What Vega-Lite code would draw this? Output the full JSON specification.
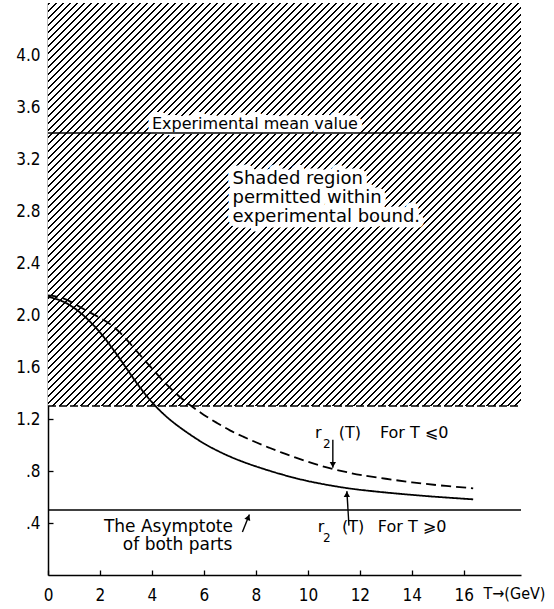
{
"$schema": "https://vega.github.io/schema/vega-lite/v6.json",
"width": 473, "height": 572,
"autosize": {"type": "none"},
"padding": {"left": 48, "top": 3, "right": 33, "bottom": 34},
"background": "white",
"config": {"view": {"stroke": null}, "font": "DejaVu Sans"},
"datasets": {
"bound": [{"T": 0, "T2": 18.2, "r": 1.3, "r2": 4.4}],
"refs": [{"label": "Experimental mean value", "r": 3.4}, {"label": "Asymptote", "r": 0.5}],
"curves": [
{"part": "T ⩽ 0", "T": 0, "r": 2.15}, {"part": "T ⩽ 0", "T": 0.5, "r": 2.14}, {"part": "T ⩽ 0", "T": 1, "r": 2.09}, {"part": "T ⩽ 0", "T": 1.5, "r": 2.03}, {"part": "T ⩽ 0", "T": 2, "r": 1.98}, {"part": "T ⩽ 0", "T": 2.5, "r": 1.92}, {"part": "T ⩽ 0", "T": 3, "r": 1.82}, {"part": "T ⩽ 0", "T": 3.5, "r": 1.70}, {"part": "T ⩽ 0", "T": 4, "r": 1.59}, {"part": "T ⩽ 0", "T": 4.5, "r": 1.475}, {"part": "T ⩽ 0", "T": 5, "r": 1.38}, {"part": "T ⩽ 0", "T": 5.5, "r": 1.30}, {"part": "T ⩽ 0", "T": 6, "r": 1.23}, {"part": "T ⩽ 0", "T": 6.5, "r": 1.17}, {"part": "T ⩽ 0", "T": 7, "r": 1.11}, {"part": "T ⩽ 0", "T": 7.5, "r": 1.065}, {"part": "T ⩽ 0", "T": 8, "r": 1.02}, {"part": "T ⩽ 0", "T": 8.5, "r": 0.98}, {"part": "T ⩽ 0", "T": 9, "r": 0.94}, {"part": "T ⩽ 0", "T": 9.5, "r": 0.905}, {"part": "T ⩽ 0", "T": 10, "r": 0.87}, {"part": "T ⩽ 0", "T": 10.5, "r": 0.84}, {"part": "T ⩽ 0", "T": 11, "r": 0.813}, {"part": "T ⩽ 0", "T": 11.5, "r": 0.79}, {"part": "T ⩽ 0", "T": 12, "r": 0.77}, {"part": "T ⩽ 0", "T": 13, "r": 0.74}, {"part": "T ⩽ 0", "T": 14, "r": 0.712}, {"part": "T ⩽ 0", "T": 15, "r": 0.69}, {"part": "T ⩽ 0", "T": 16.36, "r": 0.667},
{"part": "T ⩾ 0", "T": 0, "r": 2.14}, {"part": "T ⩾ 0", "T": 0.5, "r": 2.115}, {"part": "T ⩾ 0", "T": 1, "r": 2.06}, {"part": "T ⩾ 0", "T": 1.5, "r": 1.975}, {"part": "T ⩾ 0", "T": 2, "r": 1.87}, {"part": "T ⩾ 0", "T": 2.5, "r": 1.74}, {"part": "T ⩾ 0", "T": 3, "r": 1.595}, {"part": "T ⩾ 0", "T": 3.5, "r": 1.45}, {"part": "T ⩾ 0", "T": 4, "r": 1.325}, {"part": "T ⩾ 0", "T": 4.5, "r": 1.225}, {"part": "T ⩾ 0", "T": 5, "r": 1.145}, {"part": "T ⩾ 0", "T": 5.5, "r": 1.075}, {"part": "T ⩾ 0", "T": 6, "r": 1.01}, {"part": "T ⩾ 0", "T": 6.5, "r": 0.957}, {"part": "T ⩾ 0", "T": 7, "r": 0.91}, {"part": "T ⩾ 0", "T": 7.5, "r": 0.87}, {"part": "T ⩾ 0", "T": 8, "r": 0.835}, {"part": "T ⩾ 0", "T": 8.5, "r": 0.803}, {"part": "T ⩾ 0", "T": 9, "r": 0.773}, {"part": "T ⩾ 0", "T": 9.5, "r": 0.746}, {"part": "T ⩾ 0", "T": 10, "r": 0.722}, {"part": "T ⩾ 0", "T": 10.5, "r": 0.702}, {"part": "T ⩾ 0", "T": 11, "r": 0.684}, {"part": "T ⩾ 0", "T": 11.5, "r": 0.668}, {"part": "T ⩾ 0", "T": 12, "r": 0.655}, {"part": "T ⩾ 0", "T": 13, "r": 0.634}, {"part": "T ⩾ 0", "T": 14, "r": 0.616}, {"part": "T ⩾ 0", "T": 15, "r": 0.600}, {"part": "T ⩾ 0", "T": 16.36, "r": 0.582}
],
"notes": [
{"group": "mean", "text": "Experimental  mean  value", "T": 4.0, "r": 3.43},
{"group": "shaded", "text": "Shaded  region", "T": 7.1, "r": 3.01},
{"group": "shaded", "text": "permitted  within", "T": 7.1, "r": 2.86},
{"group": "shaded", "text": "experimental  bound.", "T": 7.1, "r": 2.715},
{"group": "curve", "text": "r", "T": 10.27, "r": 1.054},
{"group": "curve", "text": "(T)", "T": 11.19, "r": 1.054},
{"group": "curve", "text": "For T ⩽0", "T": 12.77, "r": 1.054},
{"group": "curve", "text": "r", "T": 10.38, "r": 0.33},
{"group": "curve", "text": "(T)", "T": 11.31, "r": 0.33},
{"group": "curve", "text": "For T ⩾0", "T": 12.69, "r": 0.33},
{"group": "asym", "text": "The Asymptote", "T": 2.15, "r": 0.33},
{"group": "asym", "text": "of  both  parts", "T": 2.88, "r": 0.19}
],
"subs": [{"text": "2", "T": 10.58, "r": 0.977}, {"text": "2", "T": 10.58, "r": 0.254}],
"arrows": [
{"id": "neg", "T": 10.96, "r": 1.04, "T2": 10.96, "r2": 0.825},
{"id": "pos", "T": 11.58, "r": 0.38, "T2": 11.5, "r2": 0.645},
{"id": "asym", "T": 7.48, "r": 0.33, "T2": 7.75, "r2": 0.465}
]
},
"layer": [
{
"data": {"name": "bound"},
"mark": {"type": "rect", "strokeWidth": 0, "fill": {"gradient": "linear", "x1": 0, "y1": 0, "x2": 1.073, "y2": 0.914, "stops": [
{"offset":0,"color":"#000"},{"offset":0.0024,"color":"#000"},{"offset":0.0024,"color":"#fff"},{"offset":0.008,"color":"#fff"},
{"offset":0.008,"color":"#000"},{"offset":0.0104,"color":"#000"},{"offset":0.0104,"color":"#fff"},{"offset":0.016,"color":"#fff"},
{"offset":0.016,"color":"#000"},{"offset":0.0184,"color":"#000"},{"offset":0.0184,"color":"#fff"},{"offset":0.024,"color":"#fff"},
{"offset":0.024,"color":"#000"},{"offset":0.0264,"color":"#000"},{"offset":0.0264,"color":"#fff"},{"offset":0.032,"color":"#fff"},
{"offset":0.032,"color":"#000"},{"offset":0.0344,"color":"#000"},{"offset":0.0344,"color":"#fff"},{"offset":0.04,"color":"#fff"},
{"offset":0.04,"color":"#000"},{"offset":0.0424,"color":"#000"},{"offset":0.0424,"color":"#fff"},{"offset":0.048,"color":"#fff"},
{"offset":0.048,"color":"#000"},{"offset":0.0504,"color":"#000"},{"offset":0.0504,"color":"#fff"},{"offset":0.056,"color":"#fff"},
{"offset":0.056,"color":"#000"},{"offset":0.0584,"color":"#000"},{"offset":0.0584,"color":"#fff"},{"offset":0.064,"color":"#fff"},
{"offset":0.064,"color":"#000"},{"offset":0.0664,"color":"#000"},{"offset":0.0664,"color":"#fff"},{"offset":0.072,"color":"#fff"},
{"offset":0.072,"color":"#000"},{"offset":0.0744,"color":"#000"},{"offset":0.0744,"color":"#fff"},{"offset":0.08,"color":"#fff"},
{"offset":0.08,"color":"#000"},{"offset":0.0824,"color":"#000"},{"offset":0.0824,"color":"#fff"},{"offset":0.088,"color":"#fff"},
{"offset":0.088,"color":"#000"},{"offset":0.0904,"color":"#000"},{"offset":0.0904,"color":"#fff"},{"offset":0.096,"color":"#fff"},
{"offset":0.096,"color":"#000"},{"offset":0.0984,"color":"#000"},{"offset":0.0984,"color":"#fff"},{"offset":0.104,"color":"#fff"},
{"offset":0.104,"color":"#000"},{"offset":0.1064,"color":"#000"},{"offset":0.1064,"color":"#fff"},{"offset":0.112,"color":"#fff"},
{"offset":0.112,"color":"#000"},{"offset":0.1144,"color":"#000"},{"offset":0.1144,"color":"#fff"},{"offset":0.12,"color":"#fff"},
{"offset":0.12,"color":"#000"},{"offset":0.1224,"color":"#000"},{"offset":0.1224,"color":"#fff"},{"offset":0.128,"color":"#fff"},
{"offset":0.128,"color":"#000"},{"offset":0.1304,"color":"#000"},{"offset":0.1304,"color":"#fff"},{"offset":0.136,"color":"#fff"},
{"offset":0.136,"color":"#000"},{"offset":0.1384,"color":"#000"},{"offset":0.1384,"color":"#fff"},{"offset":0.144,"color":"#fff"},
{"offset":0.144,"color":"#000"},{"offset":0.1464,"color":"#000"},{"offset":0.1464,"color":"#fff"},{"offset":0.152,"color":"#fff"},
{"offset":0.152,"color":"#000"},{"offset":0.1544,"color":"#000"},{"offset":0.1544,"color":"#fff"},{"offset":0.16,"color":"#fff"},
{"offset":0.16,"color":"#000"},{"offset":0.1624,"color":"#000"},{"offset":0.1624,"color":"#fff"},{"offset":0.168,"color":"#fff"},
{"offset":0.168,"color":"#000"},{"offset":0.1704,"color":"#000"},{"offset":0.1704,"color":"#fff"},{"offset":0.176,"color":"#fff"},
{"offset":0.176,"color":"#000"},{"offset":0.1784,"color":"#000"},{"offset":0.1784,"color":"#fff"},{"offset":0.184,"color":"#fff"},
{"offset":0.184,"color":"#000"},{"offset":0.1864,"color":"#000"},{"offset":0.1864,"color":"#fff"},{"offset":0.192,"color":"#fff"},
{"offset":0.192,"color":"#000"},{"offset":0.1944,"color":"#000"},{"offset":0.1944,"color":"#fff"},{"offset":0.2,"color":"#fff"},
{"offset":0.2,"color":"#000"},{"offset":0.2024,"color":"#000"},{"offset":0.2024,"color":"#fff"},{"offset":0.208,"color":"#fff"},
{"offset":0.208,"color":"#000"},{"offset":0.2104,"color":"#000"},{"offset":0.2104,"color":"#fff"},{"offset":0.216,"color":"#fff"},
{"offset":0.216,"color":"#000"},{"offset":0.2184,"color":"#000"},{"offset":0.2184,"color":"#fff"},{"offset":0.224,"color":"#fff"},
{"offset":0.224,"color":"#000"},{"offset":0.2264,"color":"#000"},{"offset":0.2264,"color":"#fff"},{"offset":0.232,"color":"#fff"},
{"offset":0.232,"color":"#000"},{"offset":0.2344,"color":"#000"},{"offset":0.2344,"color":"#fff"},{"offset":0.24,"color":"#fff"},
{"offset":0.24,"color":"#000"},{"offset":0.2424,"color":"#000"},{"offset":0.2424,"color":"#fff"},{"offset":0.248,"color":"#fff"},
{"offset":0.248,"color":"#000"},{"offset":0.2504,"color":"#000"},{"offset":0.2504,"color":"#fff"},{"offset":0.256,"color":"#fff"},
{"offset":0.256,"color":"#000"},{"offset":0.2584,"color":"#000"},{"offset":0.2584,"color":"#fff"},{"offset":0.264,"color":"#fff"},
{"offset":0.264,"color":"#000"},{"offset":0.2664,"color":"#000"},{"offset":0.2664,"color":"#fff"},{"offset":0.272,"color":"#fff"},
{"offset":0.272,"color":"#000"},{"offset":0.2744,"color":"#000"},{"offset":0.2744,"color":"#fff"},{"offset":0.28,"color":"#fff"},
{"offset":0.28,"color":"#000"},{"offset":0.2824,"color":"#000"},{"offset":0.2824,"color":"#fff"},{"offset":0.288,"color":"#fff"},
{"offset":0.288,"color":"#000"},{"offset":0.2904,"color":"#000"},{"offset":0.2904,"color":"#fff"},{"offset":0.296,"color":"#fff"},
{"offset":0.296,"color":"#000"},{"offset":0.2984,"color":"#000"},{"offset":0.2984,"color":"#fff"},{"offset":0.304,"color":"#fff"},
{"offset":0.304,"color":"#000"},{"offset":0.3064,"color":"#000"},{"offset":0.3064,"color":"#fff"},{"offset":0.312,"color":"#fff"},
{"offset":0.312,"color":"#000"},{"offset":0.3144,"color":"#000"},{"offset":0.3144,"color":"#fff"},{"offset":0.32,"color":"#fff"},
{"offset":0.32,"color":"#000"},{"offset":0.3224,"color":"#000"},{"offset":0.3224,"color":"#fff"},{"offset":0.328,"color":"#fff"},
{"offset":0.328,"color":"#000"},{"offset":0.3304,"color":"#000"},{"offset":0.3304,"color":"#fff"},{"offset":0.336,"color":"#fff"},
{"offset":0.336,"color":"#000"},{"offset":0.3384,"color":"#000"},{"offset":0.3384,"color":"#fff"},{"offset":0.344,"color":"#fff"},
{"offset":0.344,"color":"#000"},{"offset":0.3464,"color":"#000"},{"offset":0.3464,"color":"#fff"},{"offset":0.352,"color":"#fff"},
{"offset":0.352,"color":"#000"},{"offset":0.3544,"color":"#000"},{"offset":0.3544,"color":"#fff"},{"offset":0.36,"color":"#fff"},
{"offset":0.36,"color":"#000"},{"offset":0.3624,"color":"#000"},{"offset":0.3624,"color":"#fff"},{"offset":0.368,"color":"#fff"},
{"offset":0.368,"color":"#000"},{"offset":0.3704,"color":"#000"},{"offset":0.3704,"color":"#fff"},{"offset":0.376,"color":"#fff"},
{"offset":0.376,"color":"#000"},{"offset":0.3784,"color":"#000"},{"offset":0.3784,"color":"#fff"},{"offset":0.384,"color":"#fff"},
{"offset":0.384,"color":"#000"},{"offset":0.3864,"color":"#000"},{"offset":0.3864,"color":"#fff"},{"offset":0.392,"color":"#fff"},
{"offset":0.392,"color":"#000"},{"offset":0.3944,"color":"#000"},{"offset":0.3944,"color":"#fff"},{"offset":0.4,"color":"#fff"},
{"offset":0.4,"color":"#000"},{"offset":0.4024,"color":"#000"},{"offset":0.4024,"color":"#fff"},{"offset":0.408,"color":"#fff"},
{"offset":0.408,"color":"#000"},{"offset":0.4104,"color":"#000"},{"offset":0.4104,"color":"#fff"},{"offset":0.416,"color":"#fff"},
{"offset":0.416,"color":"#000"},{"offset":0.4184,"color":"#000"},{"offset":0.4184,"color":"#fff"},{"offset":0.424,"color":"#fff"},
{"offset":0.424,"color":"#000"},{"offset":0.4264,"color":"#000"},{"offset":0.4264,"color":"#fff"},{"offset":0.432,"color":"#fff"},
{"offset":0.432,"color":"#000"},{"offset":0.4344,"color":"#000"},{"offset":0.4344,"color":"#fff"},{"offset":0.44,"color":"#fff"},
{"offset":0.44,"color":"#000"},{"offset":0.4424,"color":"#000"},{"offset":0.4424,"color":"#fff"},{"offset":0.448,"color":"#fff"},
{"offset":0.448,"color":"#000"},{"offset":0.4504,"color":"#000"},{"offset":0.4504,"color":"#fff"},{"offset":0.456,"color":"#fff"},
{"offset":0.456,"color":"#000"},{"offset":0.4584,"color":"#000"},{"offset":0.4584,"color":"#fff"},{"offset":0.464,"color":"#fff"},
{"offset":0.464,"color":"#000"},{"offset":0.4664,"color":"#000"},{"offset":0.4664,"color":"#fff"},{"offset":0.472,"color":"#fff"},
{"offset":0.472,"color":"#000"},{"offset":0.4744,"color":"#000"},{"offset":0.4744,"color":"#fff"},{"offset":0.48,"color":"#fff"},
{"offset":0.48,"color":"#000"},{"offset":0.4824,"color":"#000"},{"offset":0.4824,"color":"#fff"},{"offset":0.488,"color":"#fff"},
{"offset":0.488,"color":"#000"},{"offset":0.4904,"color":"#000"},{"offset":0.4904,"color":"#fff"},{"offset":0.496,"color":"#fff"},
{"offset":0.496,"color":"#000"},{"offset":0.4984,"color":"#000"},{"offset":0.4984,"color":"#fff"},{"offset":0.504,"color":"#fff"},
{"offset":0.504,"color":"#000"},{"offset":0.5064,"color":"#000"},{"offset":0.5064,"color":"#fff"},{"offset":0.512,"color":"#fff"},
{"offset":0.512,"color":"#000"},{"offset":0.5144,"color":"#000"},{"offset":0.5144,"color":"#fff"},{"offset":0.52,"color":"#fff"},
{"offset":0.52,"color":"#000"},{"offset":0.5224,"color":"#000"},{"offset":0.5224,"color":"#fff"},{"offset":0.528,"color":"#fff"},
{"offset":0.528,"color":"#000"},{"offset":0.5304,"color":"#000"},{"offset":0.5304,"color":"#fff"},{"offset":0.536,"color":"#fff"},
{"offset":0.536,"color":"#000"},{"offset":0.5384,"color":"#000"},{"offset":0.5384,"color":"#fff"},{"offset":0.544,"color":"#fff"},
{"offset":0.544,"color":"#000"},{"offset":0.5464,"color":"#000"},{"offset":0.5464,"color":"#fff"},{"offset":0.552,"color":"#fff"},
{"offset":0.552,"color":"#000"},{"offset":0.5544,"color":"#000"},{"offset":0.5544,"color":"#fff"},{"offset":0.56,"color":"#fff"},
{"offset":0.56,"color":"#000"},{"offset":0.5624,"color":"#000"},{"offset":0.5624,"color":"#fff"},{"offset":0.568,"color":"#fff"},
{"offset":0.568,"color":"#000"},{"offset":0.5704,"color":"#000"},{"offset":0.5704,"color":"#fff"},{"offset":0.576,"color":"#fff"},
{"offset":0.576,"color":"#000"},{"offset":0.5784,"color":"#000"},{"offset":0.5784,"color":"#fff"},{"offset":0.584,"color":"#fff"},
{"offset":0.584,"color":"#000"},{"offset":0.5864,"color":"#000"},{"offset":0.5864,"color":"#fff"},{"offset":0.592,"color":"#fff"},
{"offset":0.592,"color":"#000"},{"offset":0.5944,"color":"#000"},{"offset":0.5944,"color":"#fff"},{"offset":0.6,"color":"#fff"},
{"offset":0.6,"color":"#000"},{"offset":0.6024,"color":"#000"},{"offset":0.6024,"color":"#fff"},{"offset":0.608,"color":"#fff"},
{"offset":0.608,"color":"#000"},{"offset":0.6104,"color":"#000"},{"offset":0.6104,"color":"#fff"},{"offset":0.616,"color":"#fff"},
{"offset":0.616,"color":"#000"},{"offset":0.6184,"color":"#000"},{"offset":0.6184,"color":"#fff"},{"offset":0.624,"color":"#fff"},
{"offset":0.624,"color":"#000"},{"offset":0.6264,"color":"#000"},{"offset":0.6264,"color":"#fff"},{"offset":0.632,"color":"#fff"},
{"offset":0.632,"color":"#000"},{"offset":0.6344,"color":"#000"},{"offset":0.6344,"color":"#fff"},{"offset":0.64,"color":"#fff"},
{"offset":0.64,"color":"#000"},{"offset":0.6424,"color":"#000"},{"offset":0.6424,"color":"#fff"},{"offset":0.648,"color":"#fff"},
{"offset":0.648,"color":"#000"},{"offset":0.6504,"color":"#000"},{"offset":0.6504,"color":"#fff"},{"offset":0.656,"color":"#fff"},
{"offset":0.656,"color":"#000"},{"offset":0.6584,"color":"#000"},{"offset":0.6584,"color":"#fff"},{"offset":0.664,"color":"#fff"},
{"offset":0.664,"color":"#000"},{"offset":0.6664,"color":"#000"},{"offset":0.6664,"color":"#fff"},{"offset":0.672,"color":"#fff"},
{"offset":0.672,"color":"#000"},{"offset":0.6744,"color":"#000"},{"offset":0.6744,"color":"#fff"},{"offset":0.68,"color":"#fff"},
{"offset":0.68,"color":"#000"},{"offset":0.6824,"color":"#000"},{"offset":0.6824,"color":"#fff"},{"offset":0.688,"color":"#fff"},
{"offset":0.688,"color":"#000"},{"offset":0.6904,"color":"#000"},{"offset":0.6904,"color":"#fff"},{"offset":0.696,"color":"#fff"},
{"offset":0.696,"color":"#000"},{"offset":0.6984,"color":"#000"},{"offset":0.6984,"color":"#fff"},{"offset":0.704,"color":"#fff"},
{"offset":0.704,"color":"#000"},{"offset":0.7064,"color":"#000"},{"offset":0.7064,"color":"#fff"},{"offset":0.712,"color":"#fff"},
{"offset":0.712,"color":"#000"},{"offset":0.7144,"color":"#000"},{"offset":0.7144,"color":"#fff"},{"offset":0.72,"color":"#fff"},
{"offset":0.72,"color":"#000"},{"offset":0.7224,"color":"#000"},{"offset":0.7224,"color":"#fff"},{"offset":0.728,"color":"#fff"},
{"offset":0.728,"color":"#000"},{"offset":0.7304,"color":"#000"},{"offset":0.7304,"color":"#fff"},{"offset":0.736,"color":"#fff"},
{"offset":0.736,"color":"#000"},{"offset":0.7384,"color":"#000"},{"offset":0.7384,"color":"#fff"},{"offset":0.744,"color":"#fff"},
{"offset":0.744,"color":"#000"},{"offset":0.7464,"color":"#000"},{"offset":0.7464,"color":"#fff"},{"offset":0.752,"color":"#fff"},
{"offset":0.752,"color":"#000"},{"offset":0.7544,"color":"#000"},{"offset":0.7544,"color":"#fff"},{"offset":0.76,"color":"#fff"},
{"offset":0.76,"color":"#000"},{"offset":0.7624,"color":"#000"},{"offset":0.7624,"color":"#fff"},{"offset":0.768,"color":"#fff"},
{"offset":0.768,"color":"#000"},{"offset":0.7704,"color":"#000"},{"offset":0.7704,"color":"#fff"},{"offset":0.776,"color":"#fff"},
{"offset":0.776,"color":"#000"},{"offset":0.7784,"color":"#000"},{"offset":0.7784,"color":"#fff"},{"offset":0.784,"color":"#fff"},
{"offset":0.784,"color":"#000"},{"offset":0.7864,"color":"#000"},{"offset":0.7864,"color":"#fff"},{"offset":0.792,"color":"#fff"},
{"offset":0.792,"color":"#000"},{"offset":0.7944,"color":"#000"},{"offset":0.7944,"color":"#fff"},{"offset":0.8,"color":"#fff"},
{"offset":0.8,"color":"#000"},{"offset":0.8024,"color":"#000"},{"offset":0.8024,"color":"#fff"},{"offset":0.808,"color":"#fff"},
{"offset":0.808,"color":"#000"},{"offset":0.8104,"color":"#000"},{"offset":0.8104,"color":"#fff"},{"offset":0.816,"color":"#fff"},
{"offset":0.816,"color":"#000"},{"offset":0.8184,"color":"#000"},{"offset":0.8184,"color":"#fff"},{"offset":0.824,"color":"#fff"},
{"offset":0.824,"color":"#000"},{"offset":0.8264,"color":"#000"},{"offset":0.8264,"color":"#fff"},{"offset":0.832,"color":"#fff"},
{"offset":0.832,"color":"#000"},{"offset":0.8344,"color":"#000"},{"offset":0.8344,"color":"#fff"},{"offset":0.84,"color":"#fff"},
{"offset":0.84,"color":"#000"},{"offset":0.8424,"color":"#000"},{"offset":0.8424,"color":"#fff"},{"offset":0.848,"color":"#fff"},
{"offset":0.848,"color":"#000"},{"offset":0.8504,"color":"#000"},{"offset":0.8504,"color":"#fff"},{"offset":0.856,"color":"#fff"},
{"offset":0.856,"color":"#000"},{"offset":0.8584,"color":"#000"},{"offset":0.8584,"color":"#fff"},{"offset":0.864,"color":"#fff"},
{"offset":0.864,"color":"#000"},{"offset":0.8664,"color":"#000"},{"offset":0.8664,"color":"#fff"},{"offset":0.872,"color":"#fff"},
{"offset":0.872,"color":"#000"},{"offset":0.8744,"color":"#000"},{"offset":0.8744,"color":"#fff"},{"offset":0.88,"color":"#fff"},
{"offset":0.88,"color":"#000"},{"offset":0.8824,"color":"#000"},{"offset":0.8824,"color":"#fff"},{"offset":0.888,"color":"#fff"},
{"offset":0.888,"color":"#000"},{"offset":0.8904,"color":"#000"},{"offset":0.8904,"color":"#fff"},{"offset":0.896,"color":"#fff"},
{"offset":0.896,"color":"#000"},{"offset":0.8984,"color":"#000"},{"offset":0.8984,"color":"#fff"},{"offset":0.904,"color":"#fff"},
{"offset":0.904,"color":"#000"},{"offset":0.9064,"color":"#000"},{"offset":0.9064,"color":"#fff"},{"offset":0.912,"color":"#fff"},
{"offset":0.912,"color":"#000"},{"offset":0.9144,"color":"#000"},{"offset":0.9144,"color":"#fff"},{"offset":0.92,"color":"#fff"},
{"offset":0.92,"color":"#000"},{"offset":0.9224,"color":"#000"},{"offset":0.9224,"color":"#fff"},{"offset":0.928,"color":"#fff"},
{"offset":0.928,"color":"#000"},{"offset":0.9304,"color":"#000"},{"offset":0.9304,"color":"#fff"},{"offset":0.936,"color":"#fff"},
{"offset":0.936,"color":"#000"},{"offset":0.9384,"color":"#000"},{"offset":0.9384,"color":"#fff"},{"offset":0.944,"color":"#fff"},
{"offset":0.944,"color":"#000"},{"offset":0.9464,"color":"#000"},{"offset":0.9464,"color":"#fff"},{"offset":0.952,"color":"#fff"},
{"offset":0.952,"color":"#000"},{"offset":0.9544,"color":"#000"},{"offset":0.9544,"color":"#fff"},{"offset":0.96,"color":"#fff"},
{"offset":0.96,"color":"#000"},{"offset":0.9624,"color":"#000"},{"offset":0.9624,"color":"#fff"},{"offset":0.968,"color":"#fff"},
{"offset":0.968,"color":"#000"},{"offset":0.9704,"color":"#000"},{"offset":0.9704,"color":"#fff"},{"offset":0.976,"color":"#fff"},
{"offset":0.976,"color":"#000"},{"offset":0.9784,"color":"#000"},{"offset":0.9784,"color":"#fff"},{"offset":0.984,"color":"#fff"},
{"offset":0.984,"color":"#000"},{"offset":0.9864,"color":"#000"},{"offset":0.9864,"color":"#fff"},{"offset":0.992,"color":"#fff"},
{"offset":0.992,"color":"#000"},{"offset":0.9944,"color":"#000"},{"offset":0.9944,"color":"#fff"},{"offset":1,"color":"#fff"}
]}},
"encoding": {
"x": {"field": "T", "type": "quantitative", "scale": {"domain": [0, 18.2], "nice": false, "zero": false},
 "axis": {"values": [0, 2, 4, 6, 8, 10, 12, 14, 16], "title": "T→(GeV)", "titleFont": "DejaVu Sans Condensed, DejaVu Sans", "titleX": 435, "titleY": 23, "titleAlign": "left", "titleAnchor": "start", "titleBaseline": "alphabetic", "titleFontSize": 16, "titleFontWeight": "normal", "titleColor": "black", "labelFont": "DejaVu Sans Condensed, DejaVu Sans", "labelFontSize": 17, "labelColor": "black", "labelPadding": 17, "labelFlush": false, "labelOverlap": false, "tickSize": -5, "tickColor": "black", "tickWidth": 1.3, "domainColor": "black", "domainWidth": 1.5, "grid": false}},
"x2": {"field": "T2"},
"y": {"field": "r", "type": "quantitative", "scale": {"domain": [0, 4.4], "nice": false, "zero": false},
 "axis": {"values": [0.4, 0.8, 1.2, 1.6, 2.0, 2.4, 2.8, 3.2, 3.6, 4.0], "labelExpr": "datum.value < 1 ? substring(format(datum.value, '.1f'), 1) : format(datum.value, '.1f')", "title": null, "labelFont": "DejaVu Sans Condensed, DejaVu Sans", "labelFontSize": 17, "labelColor": "black", "labelPadding": 13, "labelFlush": false, "labelOverlap": false, "tickSize": -5, "tickColor": "black", "tickWidth": 1.3, "domainColor": "black", "domainWidth": 1.5, "grid": false}},
"y2": {"field": "r2"}
}
},
{
"data": {"name": "notes"},
"transform": [{"filter": "datum.group == 'mean'"}],
"mark": {"type": "text", "align": "left", "baseline": "alphabetic", "fontSize": 16, "fill": "white", "stroke": "white", "strokeWidth": 10, "strokeJoin": "round"},
"encoding": {"x": {"field": "T", "type": "quantitative"}, "y": {"field": "r", "type": "quantitative"}, "text": {"field": "text"}}
},
{
"data": {"name": "notes"},
"transform": [{"filter": "datum.group == 'shaded'"}],
"mark": {"type": "text", "align": "left", "baseline": "alphabetic", "fontSize": 18, "fill": "white", "stroke": "white", "strokeWidth": 11, "strokeJoin": "round"},
"encoding": {"x": {"field": "T", "type": "quantitative"}, "y": {"field": "r", "type": "quantitative"}, "text": {"field": "text"}}
},
{
"data": {"name": "bound"},
"mark": {"type": "rule", "color": "black", "strokeWidth": 1.4, "strokeDash": [8, 3]},
"encoding": {"x": {"field": "T", "type": "quantitative"}, "x2": {"field": "T2"}, "y": {"field": "r", "type": "quantitative"}}
},
{
"data": {"name": "refs"},
"mark": {"type": "rule", "color": "black", "strokeWidth": 1.4},
"encoding": {"y": {"field": "r", "type": "quantitative"}}
},
{
"data": {"name": "curves"},
"mark": {"type": "line", "color": "black", "strokeWidth": 1.8, "interpolate": "basis"},
"encoding": {
"x": {"field": "T", "type": "quantitative"},
"y": {"field": "r", "type": "quantitative"},
"detail": {"field": "part"},
"strokeDash": {"field": "part", "type": "nominal", "scale": {"domain": ["T ⩽ 0", "T ⩾ 0"], "range": [[10, 5], [1, 0]]}, "legend": null}
}
},
{
"data": {"name": "notes"},
"transform": [{"filter": "datum.group == 'mean' || datum.group == 'curve'"}],
"mark": {"type": "text", "align": "left", "baseline": "alphabetic", "fontSize": 16, "color": "black"},
"encoding": {"x": {"field": "T", "type": "quantitative"}, "y": {"field": "r", "type": "quantitative"}, "text": {"field": "text"}}
},
{
"data": {"name": "notes"},
"transform": [{"filter": "datum.group == 'shaded'"}],
"mark": {"type": "text", "align": "left", "baseline": "alphabetic", "fontSize": 18, "color": "black"},
"encoding": {"x": {"field": "T", "type": "quantitative"}, "y": {"field": "r", "type": "quantitative"}, "text": {"field": "text"}}
},
{
"data": {"name": "notes"},
"transform": [{"filter": "datum.group == 'asym'"}],
"mark": {"type": "text", "align": "left", "baseline": "alphabetic", "fontSize": 17, "color": "black"},
"encoding": {"x": {"field": "T", "type": "quantitative"}, "y": {"field": "r", "type": "quantitative"}, "text": {"field": "text"}}
},
{
"data": {"name": "subs"},
"mark": {"type": "text", "align": "left", "baseline": "alphabetic", "fontSize": 12, "color": "black"},
"encoding": {"x": {"field": "T", "type": "quantitative"}, "y": {"field": "r", "type": "quantitative"}, "text": {"field": "text"}}
},
{
"data": {"name": "arrows"},
"mark": {"type": "rule", "color": "black", "strokeWidth": 1.4},
"encoding": {"x": {"field": "T", "type": "quantitative"}, "y": {"field": "r", "type": "quantitative"}, "x2": {"field": "T2"}, "y2": {"field": "r2"}}
},
{
"data": {"name": "arrows"},
"transform": [{"filter": "datum.id == 'neg'"}],
"mark": {"type": "point", "shape": "triangle-down", "filled": true, "color": "black", "size": 40, "yOffset": -3, "opacity": 1},
"encoding": {"x": {"field": "T2", "type": "quantitative"}, "y": {"field": "r2", "type": "quantitative"}}
},
{
"data": {"name": "arrows"},
"transform": [{"filter": "datum.id == 'pos'"}],
"mark": {"type": "point", "shape": "triangle-up", "filled": true, "color": "black", "size": 40, "yOffset": 3, "opacity": 1},
"encoding": {"x": {"field": "T2", "type": "quantitative"}, "y": {"field": "r2", "type": "quantitative"}}
},
{
"data": {"name": "arrows"},
"transform": [{"filter": "datum.id == 'asym'"}],
"mark": {"type": "point", "shape": "triangle-up", "filled": true, "color": "black", "size": 40, "angle": 21, "xOffset": -1.1, "yOffset": 2.8, "opacity": 1},
"encoding": {"x": {"field": "T2", "type": "quantitative"}, "y": {"field": "r2", "type": "quantitative"}}
}
]
}
